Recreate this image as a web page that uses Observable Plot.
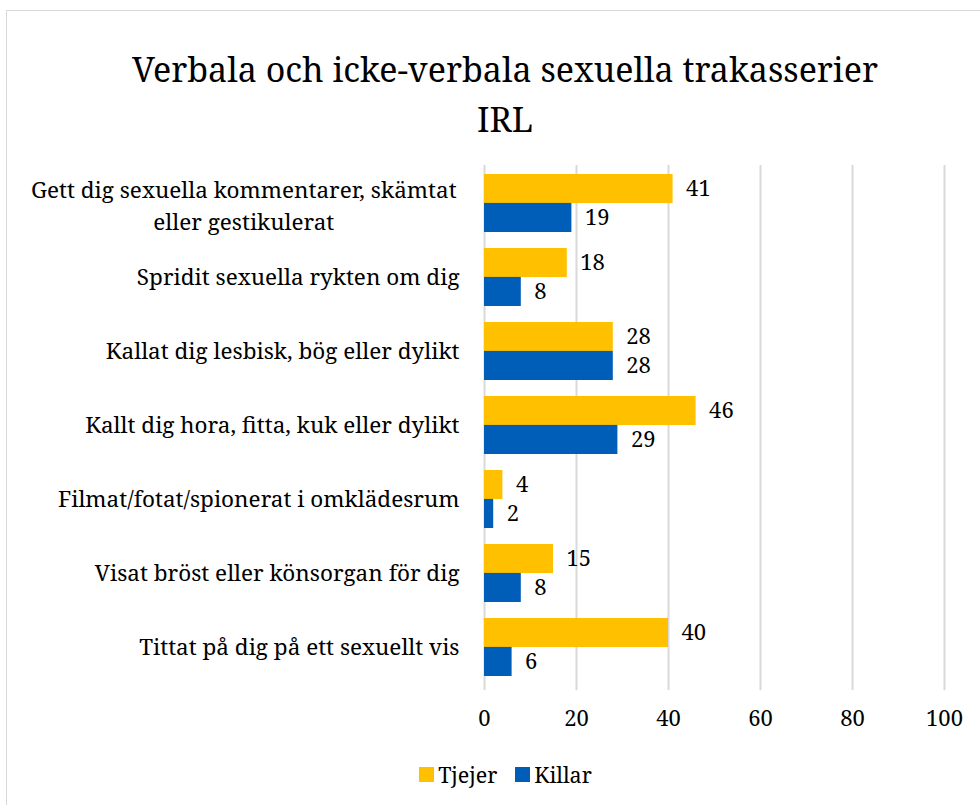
<!DOCTYPE html>
<html>
<head>
<meta charset="utf-8">
<script src="https://cdn.jsdelivr.net/npm/d3@7"></script>
<script src="https://cdn.jsdelivr.net/npm/@observablehq/plot@0.6"></script>
<style>
  html, body { margin: 0; padding: 0; background: #fff; }
  #wrap { position: relative; width: 980px; height: 805px; overflow: hidden; font-family: 'Noto Serif', serif; color: #000; }
  #border { position: absolute; left: 6px; top: 10px; width: 1000px; height: 900px; border: 1.5px solid #d9d9d9; box-sizing: border-box; }
  #title { position: absolute; left: 6px; width: 998px; top: 44px; text-align: center; font-size: 34px; line-height: 50px; }
  #chart { position: absolute; left: 0; top: 150px; }
  #legend { position: absolute; top: 760px; left: 0; width: 1011px; height: 29px; display: flex; justify-content: center; align-items: center; font-size: 21.5px; line-height: 29px; }
  .sw { width: 15px; height: 15px; display: inline-block; margin-right: 4px; }
  .item { display: flex; align-items: center; margin: 0 9px; }
</style>
</head>
<body>
<div id="wrap">
  <div id="border"></div>
  <div id="title">Verbala och icke-verbala sexuella trakasserier<br>IRL</div>
  <div id="chart"></div>
  <div id="legend"></div>
</div>
<script>
const categories = [
  "Gett dig sexuella kommentarer, skämtat\neller gestikulerat",
  "Spridit sexuella rykten om dig",
  "Kallat dig lesbisk, bög eller dylikt",
  "Kallt dig hora, fitta, kuk eller dylikt",
  "Filmat/fotat/spionerat i omklädesrum",
  "Visat bröst eller könsorgan för dig",
  "Tittat på dig på ett sexuellt vis"
];
const tjejer = [41, 18, 28, 46, 4, 15, 40];
const killar = [19, 8, 28, 29, 2, 8, 6];
const seriesNames = ["Tjejer", "Killar"];
const seriesColors = ["#FFC000", "#005EB8"];
const xTicks = [0, 20, 40, 60, 80, 100];

const FONT = "'Noto Serif', serif";
const FS = 22.5;   // category labels
const VFS = 22;    // values & ticks
const W = 980, H = 590, MT = 15, MB = 56, ML = 484, MR = 36;
const PAD = 0.22;
const bw = (H - MT - MB) / categories.length * (1 - PAD);
const half = bw / 2;

const rowsT = categories.map((c, i) => ({cat: c, v: tjejer[i]}));
const rowsK = categories.map((c, i) => ({cat: c, v: killar[i]}));

const single = categories.filter(c => !c.includes("\n"));
const multi = categories.filter(c => c.includes("\n"));

const ctx = document.createElement("canvas").getContext("2d");
ctx.font = `${FS}px ${FONT}`;
const multiOffset = multi.map(c => {
  const lines = c.split("\n");
  const w = Math.max(...lines.map(l => ctx.measureText(l + " ").width));
  return w / 2;
});

const plot = Plot.plot({
  width: W, height: H,
  marginTop: MT, marginBottom: MB, marginLeft: ML, marginRight: MR,
  style: {fontFamily: FONT, fontSize: VFS + "px", color: "#000", background: "transparent"},
  x: {domain: [0, 100], axis: null},
  y: {domain: categories, paddingInner: PAD, paddingOuter: PAD / 2, axis: null},
  marks: [
    Plot.ruleX(xTicks, {stroke: "#d9d9d9", strokeWidth: 2, insetBottom: -6}),
    Plot.barX(rowsT, {x: "v", y: "cat", fill: seriesColors[0], insetBottom: half, insetTop: 0}),
    Plot.barX(rowsK, {x: "v", y: "cat", fill: seriesColors[1], insetTop: half, insetBottom: 0}),
    Plot.text(rowsT, {x: "v", y: "cat", text: d => String(d.v), dx: 13, dy: -half / 2, textAnchor: "start", fontSize: VFS, fill: "#000"}),
    Plot.text(rowsK, {x: "v", y: "cat", text: d => String(d.v), dx: 13, dy: half / 2, textAnchor: "start", fontSize: VFS, fill: "#000"}),
    Plot.text(single, {x: () => 0, y: d => d, text: d => d, textAnchor: "end", dx: -25, fontSize: FS, fill: "#000"}),
    ...multi.map((c, i) => Plot.text([c], {x: () => 0, y: d => d, text: d => d, textAnchor: "middle", dx: -25 - multiOffset[i], lineHeight: 1.42, fontSize: FS, fill: "#000"})),
    Plot.axisX(xTicks, {tickSize: 0, tickPadding: 26, fontSize: VFS, fill: "#000", label: null})
  ]
});
document.getElementById("chart").appendChild(plot);

const legend = document.getElementById("legend");
seriesNames.forEach((s, i) => {
  const it = document.createElement("div");
  it.className = "item";
  it.innerHTML = `<span class="sw" style="background:${seriesColors[i]}"></span><span>${s}</span>`;
  legend.appendChild(it);
});
</script>
</body>
</html>
